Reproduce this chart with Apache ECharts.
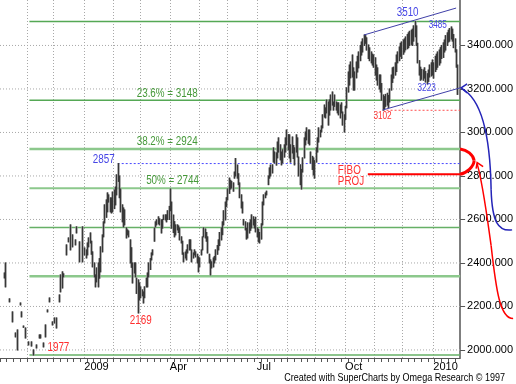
<!DOCTYPE html>
<html><head><meta charset="utf-8">
<script src="https://cdn.jsdelivr.net/npm/echarts@6/dist/echarts.min.js"></script>
<style>html,body{margin:0;padding:0;background:#fff}#c{width:516px;height:384px}</style>
</head><body><div id="c"></div>
<script>
// ---- data ----
const START_DATE = '2008-10-06';
const END_DATE = '2010-01-29';
// daily high/low (index = weekday since START_DATE); null = no bar drawn
const LOW = [null,null,null,2331,2290,null,null,2221,null,2129,null,2060,null,2000,null,2207,2152,2104,null,2055,
null,2023,null,2018,null,1977,null,2009,null,2055,2055,null,2014,null,2060,2175,null,2221,null,2115,
2124,null,2101,null,2221,2267,2285,2336,null,2437,null,2497,2460,null,2474,null,2483,2538,null,2405,
null,2405,null,2437,2423,2437,2474,2492,2440,2382,2336,2290,2313,2290,2330,2359,2451,2520,2584,2610,
2635,2680,2635,2630,2635,2650,2667,2713,2775,2700,2635,2589,2566,2575,2515,2529,2520,2400,2380,2308,
2354,2336,2260,2170,2230,2240,2249,2216,2240,2290,2290,2336,2370,2414,2437,2500,2566,2575,2580,2575,
2538,2560,2600,2598,2589,2600,2600,2640,2560,2540,2520,2529,2552,2540,2506,2492,2440,2405,2423,2414,
2446,2460,2460,2405,2423,2437,2428,2400,2359,2382,2437,2460,2520,2515,2500,2446,2400,2345,2377,2382,
2400,2414,2440,2460,2480,2506,2530,2575,2598,2660,2690,2720,2740,2745,2730,2790,2800,2790,2760,2700,
2653,2630,2575,2552,2510,2515,2538,2550,2561,2575,2561,2543,2520,2497,2492,2510,2575,2667,2700,2713,
2760,2790,2800,2814,2864,2860,2850,2883,2910,2874,2851,2860,2887,2910,2943,2920,2883,2864,2906,2880,
2851,2910,2887,2800,2760,2740,2818,2883,2943,2966,2950,2943,2860,2830,2805,2790,2864,2910,2956,2980,
3002,3021,3071,3067,3090,3034,3080,3103,3126,3103,3120,3103,3090,3081,3067,3090,3034,3002,3060,3113,
3186,3218,3251,3255,3195,3195,3251,3278,3297,3330,3356,3370,3400,3410,3379,3340,3330,3320,3310,3300,
3264,3241,3218,3200,3186,3149,3103,3110,3120,3126,3115,3140,3195,3230,3250,3264,3280,3320,3330,3350,
3340,3360,3370,3380,3385,3390,3400,3405,3400,3420,3440,3400,3320,3264,3240,3245,3240,3250,3232,3223,
3235,3255,3260,3264,3250,3280,3290,3300,3310,3320,3340,3345,3370,3379,3400,3416,3420,3430,3420,3390,
3370,3300,3175];
const HIGH = [null,null,null,2354,2400,null,null,2235,null,2175,null,2078,null,2092,null,2216,2175,2110,null,2101,
null,2037,null,2037,null,2000,null,2023,null,2069,2069,null,2032,null,2115,2184,null,2239,null,2129,
2147,null,2147,null,2253,2345,2359,2350,null,2483,null,2515,2575,null,2529,null,2506,2566,null,2497,
null,2566,null,2469,2460,2492,2515,2538,2500,2451,2400,2345,2377,2400,2420,2474,2529,2589,2667,2690,
2722,2713,2699,2699,2726,2735,2749,2805,2857,2800,2740,2667,2653,2644,2561,2552,2547,2506,2470,2400,
2400,2400,2330,2322,2308,2290,2276,2267,2290,2330,2354,2400,2420,2446,2460,2560,2589,2598,2612,2603,
2598,2600,2620,2621,2621,2640,2660,2740,2680,2620,2590,2575,2575,2570,2561,2520,2500,2446,2450,2460,
2483,2506,2506,2460,2446,2460,2451,2440,2428,2423,2460,2520,2561,2556,2540,2520,2440,2414,2405,2423,
2430,2460,2480,2506,2540,2561,2589,2640,2680,2700,2740,2790,2780,2775,2768,2818,2880,2850,2810,2768,
2713,2680,2600,2589,2560,2584,2584,2598,2621,2612,2600,2610,2561,2555,2540,2580,2680,2713,2722,2730,
2800,2837,2850,2851,2929,2910,2906,2956,2975,2943,2910,2920,2943,2975,3011,2990,2989,2943,2979,2940,
2929,2989,2975,2887,2851,2830,2883,2975,3002,3021,3011,3011,2910,2890,2883,2870,2929,2975,3021,3010,
3030,3081,3126,3113,3149,3140,3150,3172,3186,3140,3172,3140,3136,3136,3126,3136,3094,3081,3120,3205,
3278,3310,3324,3356,3297,3278,3324,3350,3370,3400,3416,3430,3448,3445,3435,3402,3389,3370,3360,3356,
3343,3310,3297,3264,3264,3225,3172,3165,3175,3180,3170,3200,3264,3297,3300,3320,3356,3370,3393,3410,
3416,3425,3430,3439,3450,3458,3465,3470,3475,3490,3510,3490,3410,3330,3300,3290,3287,3297,3280,3270,
3287,3310,3320,3333,3320,3350,3360,3370,3379,3390,3400,3412,3425,3445,3458,3470,3478,3485,3475,3450,
3430,3380,3310];
const Y_TICKS = [2000, 2200, 2400, 2600, 2800, 3000, 3200, 3400];
const Y_MIN = 1963, Y_MAX = 3609;
const QUARTER_NAMES = {0: null, 3: 'Apr', 6: 'Jul', 9: 'Oct'}; // null -> year
const FIB_START = 22, LAST = 344;
const FIB_LEVELS = [3510, 3148, 2924, 2744, 2563, 2339, 1977];
const FIB_TEXTS = ['', '23.6% = 3148', '38.2% = 2924', '50% = 2744', '', '', ''];
const FIB_TEXT_AT = [0, 124.5, 124.5, 128.6, 0, 0, 0];
const UPPER_CHANNEL = [[272, 3448], [341, 3572]];
const LOWER_CHANNEL = [[286, 3103], [344, 3205]];
const BLUE_LEVEL = {from: 88, value: 2857};
const RED_LEVEL = {from: 286, value: 3102};
const PROJ_LEVEL = {from: 275, value: 2808};
const PIVOTS = [
  {i: 310, v: 3510, text: '3510'}, {i: 337, v: 3485, text: '3485'},
  {i: 319, v: 3223, text: '3223'}, {i: 286, v: 3103, text: '3102'},
  {i: 88, v: 2857, text: '2857'}, {i: 25, v: 1977, text: '1977'},
  {i: 103, v: 2170, text: '2169'}
];
const CREDIT = 'Created with SuperCharts by Omega Research \u00a9 1997';

// ---- styles ----
const FONT = "'Liberation Sans',Arial,sans-serif";
const NARROW = 0.82;
const BLUE_TXT = '#4646e6', RED_TXT = '#ff3030', GREEN_TXT = '#46993a';
const FIB_STYLE = [
  {c: '#55a855', w: 1.5}, {c: '#55a855', w: 1.5}, {c: '#8cc88c', w: 2.5}, {c: '#8cc88c', w: 2},
  {c: '#66b066', w: 1.5}, {c: '#8cc88c', w: 2.5}, {c: '#66b066', w: 1.5}];
const PIVOT_STYLE = [
  {c: BLUE_TXT, s: 12, dx: -7, dy: -9, a: 'center'}, {c: BLUE_TXT, s: 10, dx: -13, dy: -2, a: 'center'},
  {c: BLUE_TXT, s: 10, dx: 0, dy: 4, a: 'center'}, {c: RED_TXT, s: 10, dx: 0, dy: 6, a: 'center'},
  {c: BLUE_TXT, s: 12, dx: -3, dy: -4, a: 'right'}, {c: RED_TXT, s: 12, dx: 14, dy: -7, a: 'left'},
  {c: RED_TXT, s: 12, dx: 3, dy: 8, a: 'center'}];

// ---- categories (weekdays) ----
const DATES = [];
for (let d = new Date(START_DATE + 'T00:00:00Z'); d <= new Date(END_DATE + 'T00:00:00Z'); d.setUTCDate(d.getUTCDate() + 1)) {
  const wd = d.getUTCDay();
  if (wd !== 0 && wd !== 6) DATES.push(d.toISOString().slice(0, 10));
}
const monthOf = s => +s.slice(5, 7) - 1;
const isMonthStart = i => i > 0 && monthOf(DATES[i]) !== monthOf(DATES[i - 1]);
const isMonday = s => new Date(s + 'T00:00:00Z').getUTCDay() === 1;

const chart = echarts.init(document.getElementById('c'), null, {renderer: 'canvas'});
const BARS = [];
LOW.forEach((l, i) => { if (l != null) BARS.push([i, l, HIGH[i]]); });

const seg = (pts, color, width, type, z) => ({
  type: 'line', data: pts, showSymbol: false, symbol: 'none', silent: true, z: z,
  lineStyle: {color: color, width: width, type: type || 'solid'}, animation: false
});

const series = [];
Y_TICKS.forEach(v => series.push(seg([[0, v], [LAST, v]], '#a8a8a8', 1, [1, 2], 1)));
FIB_LEVELS.forEach((v, k) => series.push(seg([[FIB_START, v], [LAST, v]], FIB_STYLE[k].c, FIB_STYLE[k].w, 'solid', 2)));
series.push(seg([[BLUE_LEVEL.from, BLUE_LEVEL.value], [LAST, BLUE_LEVEL.value]], '#4848ff', 1, [2, 2], 3));
series.push(seg([[RED_LEVEL.from, RED_LEVEL.value], [LAST, RED_LEVEL.value]], '#ff5050', 1, [2, 2], 3));
series.push(seg([[PROJ_LEVEL.from, PROJ_LEVEL.value], [LAST, PROJ_LEVEL.value]], '#ff0000', 2, 'solid', 3));
// bar body (gray) then bar stroke (dark)
series.push({
  type: 'custom', data: BARS, encode: {x: 0, y: [1, 2]}, z: 4, silent: true, animation: false,
  renderItem: (params, api) => {
    const i = api.value(0);
    const lo = api.coord([i, api.value(1)]);
    const hi = api.coord([i, api.value(2)]);
    const x = Math.round(lo[0]);
    return {type: 'rect', shape: {x: x - 0.7, y: hi[1] - 0.5, width: 2.4, height: Math.max(lo[1] - hi[1], 1) + 1},
      style: {fill: '#8e8e8e'}};
  }
});
series.push({
  type: 'custom', data: BARS, encode: {x: 0, y: [1, 2]}, z: 5, silent: true, animation: false,
  renderItem: (params, api) => {
    const i = api.value(0);
    const lo = api.coord([i, api.value(1)]);
    const hi = api.coord([i, api.value(2)]);
    const x = Math.round(lo[0]) + 0.5;
    return {type: 'line', shape: {x1: x, y1: lo[1] + 0.5, x2: x, y2: Math.min(hi[1], lo[1] - 1) - 0.5},
      style: {stroke: '#383838', lineWidth: 1}};
  }
});
series.push(seg(UPPER_CHANNEL, '#4040a8', 1, 'solid', 6));
series.push(seg(LOWER_CHANNEL, '#4040a8', 1, 'solid', 6));

chart.setOption({
  animation: false,
  backgroundColor: '#ffffff',
  grid: {left: -2, right: 52, top: 0, bottom: 26, containLabel: false},
  xAxis: {
    type: 'category', data: DATES, boundaryGap: false,
    axisLine: {show: true, onZero: false, lineStyle: {color: '#555', width: 1}},
    axisTick: {show: true, length: 4, interval: (idx, val) => isMonday(val), lineStyle: {color: '#555'}},
    axisLabel: {
      interval: (idx) => isMonthStart(idx) && (monthOf(DATES[idx]) % 3 === 0),
      formatter: (val) => { const m = monthOf(val); return QUARTER_NAMES[m] === null ? val.slice(0, 4) : QUARTER_NAMES[m]; },
      align: 'left', margin: 3, color: '#000', fontSize: 11, fontFamily: FONT
    },
    splitLine: {show: true, interval: (idx) => isMonthStart(idx), lineStyle: {color: '#a8a8a8', type: [1, 2]}}
  },
  yAxis: {
    type: 'value', position: 'right', min: Y_MIN, max: Y_MAX, splitNumber: 8,
    axisLine: {show: true, lineStyle: {color: '#555', width: 1.5}},
    axisTick: {show: true, length: 5, customValues: Y_TICKS, lineStyle: {color: '#555'}},
    axisLabel: {customValues: Y_TICKS, margin: 7, color: '#000', fontSize: 11, fontFamily: FONT,
      formatter: v => Y_TICKS.indexOf(v) >= 0 ? v.toFixed(3) : ''},
    splitLine: {show: false}
  },
  series: series
});

// ---- annotations ----
const px = (i, v) => chart.convertToPixel({xAxisIndex: 0, yAxisIndex: 0}, [i, v]);
const txt = (x, y, text, color, size, align) => ({
  type: 'text', x: x, y: y, scaleX: NARROW, silent: true, z: 20,
  style: {text: text, fill: color, font: size + 'px ' + FONT, align: align, textAlign: align,
    verticalAlign: 'middle', textVerticalAlign: 'middle'}
});
const g = [];
FIB_LEVELS.forEach((v, k) => {
  if (!FIB_TEXTS[k]) return;
  const p = px(FIB_TEXT_AT[k], v);
  g.push(txt(p[0], p[1] - 7, FIB_TEXTS[k], GREEN_TXT, 12, 'center'));
});
PIVOTS.forEach((pv, k) => {
  const p = px(pv.i, pv.v), s = PIVOT_STYLE[k];
  g.push(txt(p[0] + s.dx, p[1] + s.dy, pv.text, s.c, s.s, s.a));
});
const pp = px(PROJ_LEVEL.from, PROJ_LEVEL.value);
g.push(txt(pp[0] - 30, pp[1] - 4, 'FIBO', RED_TXT, 12, 'left'));
g.push(txt(pp[0] - 30, pp[1] + 7, 'PROJ', RED_TXT, 12, 'left'));
g.push(txt(505, 378, CREDIT, '#000', 11, 'right'));

const bez = (a, c1, c2, b, color, w) => ({
  type: 'bezierCurve', silent: true, z: 21,
  shape: {x1: a[0], y1: a[1], cpx1: c1[0], cpy1: c1[1], cpx2: c2[0], cpy2: c2[1], x2: b[0], y2: b[1]},
  style: {stroke: color, lineWidth: w, fill: null}
});
const poly = (pts, color, w) => ({type: 'polyline', silent: true, z: 21, shape: {points: pts},
  style: {stroke: color, lineWidth: w, fill: null}});
// blue arrow from channel end
const A = px(LOWER_CHANNEL[1][0], LOWER_CHANNEL[1][1]);
const ax = A[0], ay = A[1];
g.push(bez([ax + 2, ay + 1], [ax + 19, ay + 10], [ax + 30, ay + 42], [ax + 31, ay + 102], '#2424b8', 1.5));
g.push(bez([ax + 31, ay + 102], [ax + 32, ay + 134], [ax + 38, ay + 144], [ax + 52, ay + 142], '#2424b8', 1.5));
g.push(poly([[ax + 7, ay - 4], [ax + 1, ay], [ax + 7, ay + 5]], '#2424b8', 1.5));
// red bracket
const B1 = px(LAST, FIB_LEVELS[2]), B2 = px(LAST, PROJ_LEVEL.value);
const T = [B1[0] + 14, (B1[1] + B2[1]) / 2 - 1];
g.push(bez(B1, [B1[0] + 7, B1[1] + 1], [T[0] - 1, T[1] - 6], T, '#ff0000', 3));
g.push(bez(T, [T[0], T[1] + 6], [B2[0] + 6, B2[1] - 1], B2, '#ff0000', 3));
// red arrow
const R = [T[0] + 3, T[1] + 2];
g.push(bez([R[0], R[1] + 1], [R[0] + 6, R[1] + 22], [R[0] + 10, R[1] + 55], [R[0] + 14, R[1] + 83], '#ff0000', 1.5));
g.push(bez([R[0] + 14, R[1] + 83], [R[0] + 19, R[1] + 128], [R[0] + 23, R[1] + 156], [R[0] + 36, R[1] + 156], '#ff0000', 1.5));
g.push(poly([[R[0] - 1, R[1] + 6], [R[0], R[1]], [R[0] + 6, R[1] + 4]], '#ff0000', 1.5));
chart.setOption({graphic: g});
</script>
</body></html>
